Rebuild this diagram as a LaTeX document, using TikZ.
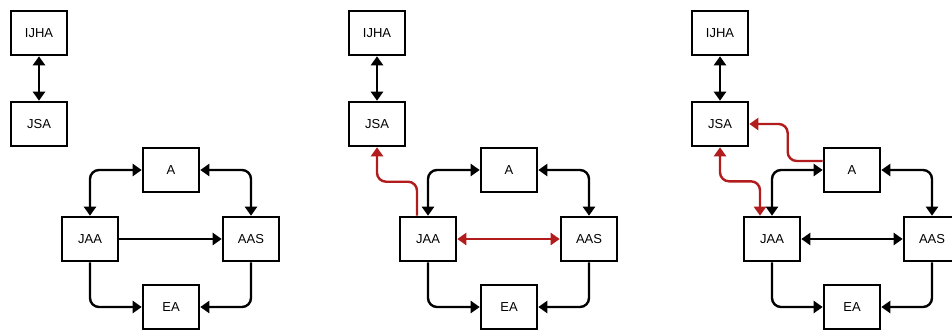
\documentclass[tikz,border=0pt]{standalone}
\usepackage{fontspec}
\setmainfont{Liberation Sans}
\usetikzlibrary{arrows.meta,calc}
\definecolor{arrred}{RGB}{178,28,28}
\tikzset{
  box/.style={draw=black, line width=2.6pt, minimum width=56pt, minimum height=44pt, inner sep=0pt, fill=white, font=\fontsize{13}{15}\selectfont},
  conn/.style={line width=2.4pt, rounded corners=9pt, -{Triangle[length=9pt,width=12pt]}},
  dconn/.style={line width=2.4pt, rounded corners=9pt, {Triangle[length=9pt,width=12pt]}-{Triangle[length=9pt,width=12pt]}},
  redc/.style={conn, draw=arrred, color=arrred},
  redd/.style={dconn, draw=arrred, color=arrred}
}
\begin{document}
\begin{tikzpicture}[x=1pt,y=-1pt]
\useasboundingbox (0,0) rectangle (952,335);
\clip (0,0) rectangle (952,335);
\fill[white] (0,0) rectangle (952,335);
% Panel 1
\node[box] (IJHA1) at (39,33) {IJHA};
\node[box] (JSA1) at (39,124) {JSA};
\node[box] (A1) at (171,170) {A};
\node[box] (JAA1) at (90,239) {JAA};
\node[box] (AAS1) at (251,239) {AAS};
\node[box] (EA1) at (171,307) {EA};
\draw[dconn] (IJHA1.south) -- (JSA1.north);
\draw[dconn] (A1.west) -| (JAA1.north);
\draw[dconn] (A1.east) -| (AAS1.north);
\draw[conn] (JAA1.east) -- (AAS1.west);
\draw[conn] (JAA1.south) |- (EA1.west);
\draw[conn] (AAS1.south) |- (EA1.east);
% Panel 2
\node[box] (IJHA2) at (377,33) {IJHA};
\node[box] (JSA2) at (377,124) {JSA};
\node[box] (A2) at (509,170) {A};
\node[box] (JAA2) at (428,239) {JAA};
\node[box] (AAS2) at (589,239) {AAS};
\node[box] (EA2) at (509,307) {EA};
\draw[dconn] (IJHA2.south) -- (JSA2.north);
\draw[dconn] (A2.west) -| (JAA2.north);
\draw[dconn] (A2.east) -| (AAS2.north);
\draw[redd] (JAA2.east) -- (AAS2.west);
\draw[conn] (JAA2.south) |- (EA2.west);
\draw[conn] (AAS2.south) |- (EA2.east);
\draw[redc] ([xshift=-11pt]JAA2.north) -- ++(0,-34) -| (JSA2.south);
% Panel 3
\node[box] (IJHA3) at (720,33) {IJHA};
\node[box] (JSA3) at (720,124) {JSA};
\node[box] (A3) at (852,170) {A};
\node[box] (JAA3) at (772,239) {JAA};
\node[box] (AAS3) at (932,239) {AAS};
\node[box] (EA3) at (852,307) {EA};
\draw[dconn] (IJHA3.south) -- (JSA3.north);
\draw[dconn] (A3.west) -| (JAA3.north);
\draw[dconn] (A3.east) -| (AAS3.north);
\draw[dconn] (JAA3.east) -- (AAS3.west);
\draw[conn] (JAA3.south) |- (EA3.west);
\draw[conn] (AAS3.south) |- (EA3.east);
\draw[redc] ([yshift=9pt]A3.west) -- ++(-35,0) |- (JSA3.east);
\draw[redd] (JSA3.south) -- ++(0,34) -| ([xshift=-12pt]JAA3.north);
\end{tikzpicture}
\end{document}
